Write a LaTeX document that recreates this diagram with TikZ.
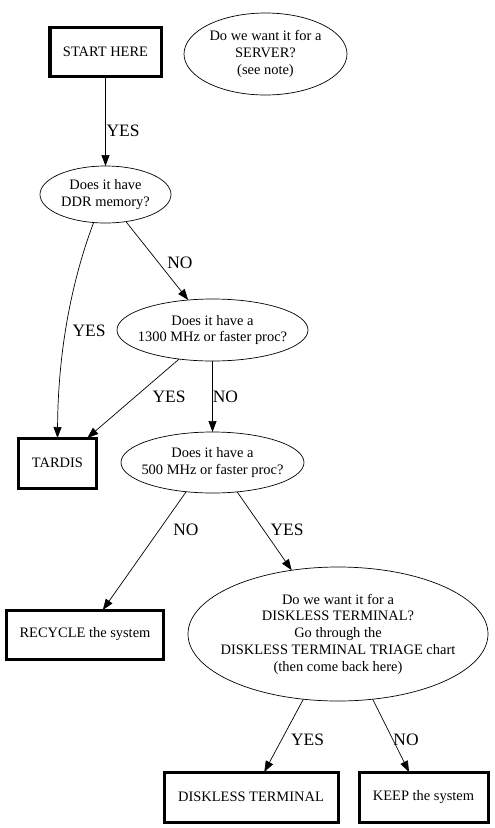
\documentclass[tikz,border=0pt]{standalone}
\usepackage{fontspec}
\setmainfont{Liberation Serif}
\usetikzlibrary{arrows.meta,shapes.geometric}
\begin{document}
\begin{tikzpicture}[x=1bp,y=-1bp,
  nodefont/.style={font=\fontsize{14.5}{16.8}\selectfont},
  box/.style={draw,line width=3bp,minimum width=#1,minimum height=49bp,inner sep=0pt,outer sep=0pt,nodefont},
  ell/.style n args={2}{draw,ellipse,line width=0.7bp,minimum width=#1,minimum height=#2,inner xsep=-80bp,inner ysep=0pt,outer sep=0pt,align=center,nodefont},
  edge/.style={-{Triangle[length=11bp,width=8bp]},line width=0.7bp},
  lab/.style={font=\fontsize{17.5}{20}\selectfont,inner sep=0pt}]
\useasboundingbox (0,0) rectangle (495,828);
\fill[white] (0,0) rectangle (495,828);

\node[box=111bp] (start) at (105.5,51.5) {START HERE};
\node[ell={163bp}{82bp}] (server) at (265.5,54) {Do we want it for a\\SERVER?\\(see note)};
\node[ell={131bp}{57bp}] (ddr) at (105.5,194.5) {Does it have\\DDR memory?};
\node[ell={191bp}{62bp}] (p1300) at (212.5,330) {Does it have a\\1300 MHz or faster proc?};
\node[box=77bp, minimum height=50bp] (tardis) at (57.5,463) {TARDIS};
\node[ell={183bp}{61bp}] (p500) at (212.5,462.5) {Does it have a\\500 MHz or faster proc?};
\node[box=156bp] (recycle) at (85,634.5) {RECYCLE the system};
\node[ell={300bp}{134bp}] (diskq) at (338,634) {Do we want it for a\\DISKLESS TERMINAL?\\Go through the\\DISKLESS TERMINAL TRIAGE chart\\(then come back here)};
\node[box=174bp, minimum height=50bp] (dterm) at (251,797) {DISKLESS TERMINAL};
\node[box=129bp, minimum height=50bp] (keep) at (423.5,797) {KEEP the system};

\draw[edge] (start.south) -- (ddr.north);
\draw[edge] (ddr.247) .. controls (72,280) and (58,350) .. (tardis.north);
\draw[edge] (ddr.307) -- (p1300.129);
\draw[edge] (p1300.221) -- (tardis.40);
\draw[edge] (p1300.south) -- (p500.north);
\draw[edge] (p500.228) -- (recycle.54);
\draw[edge] (p500.310) -- (diskq.126);
\draw[edge] (diskq.242) -- (dterm.62);
\draw[edge] (diskq.298) -- (keep.120);

\node[lab] (l1) at (123,131) {YES};
\node[lab] (l2) at (89,331) {YES};
\node[lab] (l3) at (180,263) {NO};
\node[lab] (l4) at (169,397) {YES};
\node[lab] (l5) at (225.5,397) {NO};
\node[lab] (l6) at (186,530) {NO};
\node[lab] (l7) at (287,530) {YES};
\node[lab] (l8) at (307.5,740) {YES};
\node[lab] (l9) at (406,740) {NO};
\end{tikzpicture}
\end{document}
